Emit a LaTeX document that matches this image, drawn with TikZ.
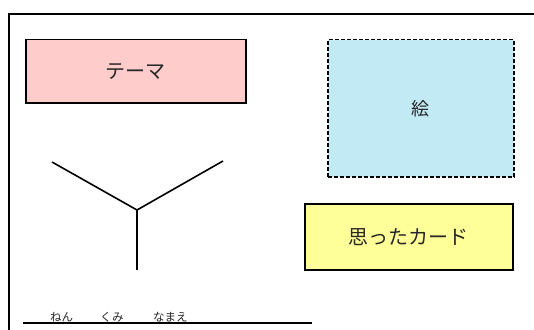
\documentclass[tikz,border=0pt]{standalone}
\usepackage{fontspec}
\setmainfont{Noto Sans CJK JP}
\begin{document}
\begin{tikzpicture}[x=1pt,y=-1pt,
  box/.style={draw=black,line width=1.5pt,inner sep=0pt,anchor=north west},
  lbl/.style={font=\fontsize{20}{24}\selectfont,text=black!85},
  small/.style={font=\fontsize{11.5}{13}\selectfont,anchor=base west,inner sep=0pt,text=black!85},
  stroke/.style={line width=1.6pt}]
\useasboundingbox (0,0) rectangle (534,329);
\fill[white] (0,0) rectangle (534,329);
% outer frame (cropped at right and bottom)
\draw[line width=2pt] (540,14) -- (9,14) -- (9,340);
% theme box
\node[box,fill={rgb,255:red,255;green,204;blue,204},minimum width=220pt,minimum height=63pt] (theme) at (25,39) {};
\node[lbl] (themet) at (theme.center) {テーマ};
% picture box
\node[box,line width=1.5pt,dash pattern=on 4pt off 2pt,fill={rgb,255:red,194;green,234;blue,245},minimum width=186pt,minimum height=137pt] (pic) at (327,39) {};
\node[font=\fontsize{18}{21}\selectfont,text=black!85] (pict) at (pic.center) {絵};
% card box
\node[box,fill={rgb,255:red,255;green,255;blue,153},minimum width=208pt,minimum height=66pt] (card) at (304,203) {};
\node[lbl] (cardt) at (card.center) {思ったカード};
% Y shape
\coordinate (yc) at (137,210);
\coordinate (yl) at (52,162);
\coordinate (yr) at (223,161);
\coordinate (yb) at (137,270);
\draw[stroke] (yl) -- (yc) -- (yr);
\draw[stroke] (yc) -- (yb);
% name line
\coordinate (nl) at (23,323);
\coordinate (nr) at (312,323);
\draw[line width=1.2pt] (nl) -- (nr);
\node[small] (nen) at (50,321) {ねん};
\node[small] (kumi) at (100,321) {くみ};
\node[small] (namae) at (153,321) {なまえ};
\end{tikzpicture}
\end{document}
